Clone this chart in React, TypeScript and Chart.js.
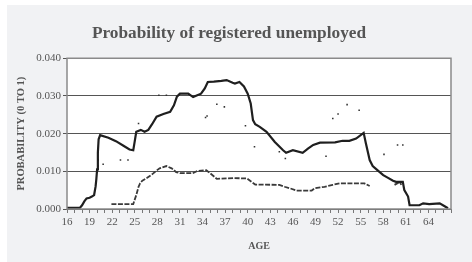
import React, { useEffect, useRef } from "react";
import { Chart, registerables } from "chart.js";

Chart.register(...registerables);

const upperAges = [16.0, 17.7, 18.0, 18.3, 18.6, 19.0, 19.3, 19.6, 19.8, 19.9, 20.0, 20.1, 20.2, 20.4, 21.5, 22.5, 23.5, 24.3, 24.8, 25.0, 25.2, 25.8, 26.3, 26.8, 27.3, 27.9, 28.8, 29.7, 30.2, 30.6, 31.0, 32.1, 32.75, 33.3, 33.8, 34.3, 34.7, 35.5, 36.5, 37.2, 38.0, 38.3, 38.9, 39.5, 40.0, 40.4, 40.7, 41.0, 41.6, 42.5, 43.6, 44.7, 45.1, 46.0, 47.3, 48.0, 48.7, 49.6, 51.6, 52.6, 53.5, 54.4, 55.4, 55.7, 56.2, 56.6, 57.3, 58.0, 58.7, 59.3, 59.7, 60.6, 60.8, 61.3, 61.5, 62.8, 63.3, 64.1, 65.5, 66.1, 66.6];
const upperVals = [0.0003, 0.0003, 0.001, 0.002, 0.0028, 0.003, 0.0033, 0.0037, 0.006, 0.008, 0.0105, 0.015, 0.0185, 0.0196, 0.0189, 0.018, 0.0168, 0.0158, 0.0156, 0.018, 0.0205, 0.021, 0.0205, 0.021, 0.0225, 0.0245, 0.0252, 0.0258, 0.0275, 0.0298, 0.0306, 0.0306, 0.0297, 0.0302, 0.0306, 0.032, 0.0337, 0.0338, 0.034, 0.0342, 0.0335, 0.0333, 0.0337, 0.0325, 0.0306, 0.028, 0.0236, 0.0225, 0.0218, 0.0205, 0.0178, 0.0156, 0.0149, 0.0156, 0.0149, 0.016, 0.017, 0.0176, 0.0177, 0.0181, 0.0181, 0.0187, 0.0202, 0.0174, 0.013, 0.0114, 0.0102, 0.009, 0.0082, 0.0075, 0.0072, 0.0072, 0.005, 0.0033, 0.001, 0.001, 0.0015, 0.0013, 0.0015, 0.0008, 0.0002];

const lowerAges = [21.9, 24.8, 25.2, 25.5, 25.7, 26.0, 26.6, 27.3, 27.9, 28.3, 29.2, 29.9, 30.5, 31.0, 32.7, 33.3, 34.5, 35.0, 35.9, 38.1, 39.9, 40.5, 41.0, 44.2, 44.9, 45.6, 46.5, 48.5, 48.9, 50.2, 51.3, 52.2, 55.5, 56.2, 58.0, 59.5, 60.2, 60.4];
const lowerVals: (number | null)[] = [0.0013, 0.0013, 0.0037, 0.0059, 0.0068, 0.0075, 0.0082, 0.0092, 0.0102, 0.0108, 0.0114, 0.0108, 0.0098, 0.0095, 0.0095, 0.0101, 0.0103, 0.0095, 0.008, 0.0082, 0.0081, 0.0072, 0.0065, 0.0064, 0.0059, 0.0055, 0.0049, 0.0049, 0.0055, 0.0059, 0.0064, 0.0068, 0.0068, 0.0061, null, 0.0064, 0.0072, 0.0064];

const outlierAges = [20.8, 23.1, 24.1, 25.5, 28.2, 29.2, 34.4, 34.6, 35.9, 36.9, 39.7, 40.9, 44.2, 45.0, 50.4, 51.3, 52.0, 53.2, 54.8, 58.1, 59.9, 60.6];
const outlierVals = [0.0119, 0.013, 0.013, 0.0227, 0.0302, 0.0302, 0.0243, 0.0247, 0.0278, 0.0271, 0.0221, 0.0165, 0.0152, 0.0134, 0.014, 0.024, 0.0252, 0.0277, 0.0262, 0.0145, 0.017, 0.017];

const yTicks = [0, 0.01, 0.02, 0.03, 0.04];
const xLabelAges = [16, 19, 22, 25, 28, 31, 34, 37, 40, 43, 46, 49, 52, 55, 58, 61, 64];

const zip = (a: number[], b: (number | null)[]) => a.map((x, i) => ({ x, y: b[i] }));

const SERIF = "'Liberation Serif', 'Times New Roman', serif";

const bgPlugin = {
  id: "bgPlugin",
  beforeDraw(chart: any) {
    const { ctx, width, height, chartArea } = chart;
    ctx.save();
    ctx.fillStyle = "#ffffff";
    ctx.fillRect(0, 0, width, height);
    ctx.fillStyle = "#f1f2f4";
    ctx.fillRect(7, 5, width - 7, height - 5);
    ctx.fillStyle = "#ffffff";
    ctx.fillRect(chartArea.left, chartArea.top, chartArea.right - chartArea.left, chartArea.bottom - chartArea.top);
    ctx.restore();
  },
  afterDatasetsDraw(chart: any) {
    const { ctx, chartArea } = chart;
    ctx.save();
    ctx.strokeStyle = "#8a8a8a";
    ctx.lineWidth = 1.5;
    ctx.strokeRect(chartArea.left, chartArea.top, chartArea.right - chartArea.left, chartArea.bottom - chartArea.top);
    ctx.restore();
  },
};

export default function App() {
  const ref = useRef<HTMLCanvasElement | null>(null);
  useEffect(() => {
    document.body.style.margin = "0";
    const chart = new Chart(ref.current as HTMLCanvasElement, {
      type: "line",
      data: {
        datasets: [
          {
            data: zip(upperAges, upperVals),
            borderColor: "#1f1f1f",
            borderWidth: 2.2,
            pointRadius: 0,
            tension: 0,
          },
          {
            data: zip(lowerAges, lowerVals),
            borderColor: "#3a3a3a",
            borderWidth: 1.8,
            borderDash: [5, 1.5],
            pointRadius: 0,
            spanGaps: false,
            tension: 0,
          },
          {
            data: zip(outlierAges, outlierVals),
            showLine: false,
            pointStyle: "rect",
            pointRadius: 1.1,
            pointBackgroundColor: "#333",
            pointBorderWidth: 0,
          },
        ] as any,
      },
      plugins: [bgPlugin],
      options: {
        animation: false,
        responsive: false,
        layout: { padding: { left: 7, right: 21, top: 5, bottom: 0 } },
        plugins: {
          legend: { display: false },
          tooltip: { enabled: false },
          title: {
            display: true,
            text: "Probability of registered unemployed",
            color: "#555",
            font: { family: SERIF, size: 17.3, weight: "bold" },
            padding: { top: 18, bottom: 14.5 },
          },
        },
        scales: {
          x: {
            type: "linear",
            min: 16,
            max: 67,
            border: { display: false },
            afterFit: (s: any) => {
              s.height = 53;
            },
            grid: { drawOnChartArea: false, drawTicks: true, tickLength: 4, color: "#777" },
            ticks: {
              stepSize: 1,
              autoSkip: false,
              maxRotation: 0,
              color: "#555",
              padding: 3,
              font: { family: SERIF, size: 11 },
              callback: (v: any) => (xLabelAges.includes(Number(v)) ? String(v) : ""),
            },
            title: {
              display: true,
              text: "AGE",
              color: "#555",
              font: { family: SERIF, size: 10, weight: "bold" },
              padding: { top: 8, bottom: 10 },
            },
          },
          y: {
            min: 0,
            max: 0.04,
            border: { display: false },
            afterFit: (s: any) => {
              s.width = 60;
            },
            afterBuildTicks: (s: any) => {
              s.ticks = yTicks.map((v) => ({ value: v }));
            },
            grid: { color: "#555", lineWidth: 1, tickLength: 4, drawTicks: true },
            ticks: {
              color: "#555",
              padding: 2,
              font: { family: SERIF, size: 11 },
              callback: (v: any) => Number(v).toFixed(3),
            },
            title: {
              display: true,
              text: "PROBABILITY (0 TO 1)",
              color: "#555",
              font: { family: SERIF, size: 10.5, weight: "bold" },
              padding: { top: 8, bottom: 4 },
            },
          },
        },
      } as any,
    });
    return () => chart.destroy();
  }, []);
  return <canvas ref={ref} width={472} height={262} style={{ display: "block" }} />;
}
